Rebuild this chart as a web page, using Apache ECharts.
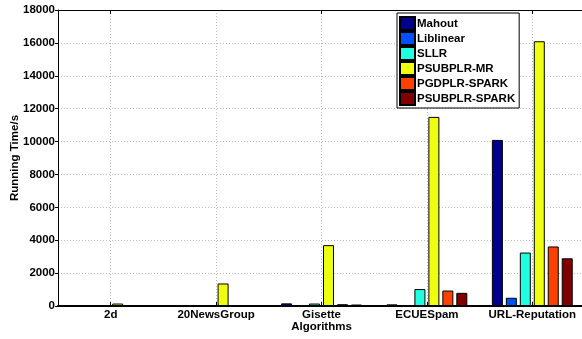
<!DOCTYPE html>
<html>
<head>
<meta charset="utf-8">
<script src="https://cdn.jsdelivr.net/npm/echarts@6/dist/echarts.min.js"></script>
<style>html,body{margin:0;padding:0;background:#fff;}#c{width:582px;height:339px;}</style>
</head>
<body>
<div id="c"></div>
<script>
var categories = ['2d', '20NewsGroup', 'Gisette', 'ECUESpam', 'URL-Reputation'];
var seriesNames = ['Mahout', 'Liblinear', 'SLLR', 'PSUBPLR-MR', 'PGDPLR-SPARK', 'PSUBPLR-SPARK'];
var mahout = [10, 20, 160, 100, 10100];
var liblinear = [5, 10, 30, 20, 500];
var sllr = [10, 30, 150, 1030, 3250];
var psubplrMR = [150, 1370, 3700, 11500, 16100];
var pgdplrSpark = [5, 15, 110, 940, 3620];
var psubplrSpark = [5, 10, 90, 800, 2900];
var colors = ['#00008F', '#0050FF', '#20FFDF', '#EFFF10', '#FF4000', '#800000'];
var allData = [mahout, liblinear, sllr, psubplrMR, pgdplrSpark, psubplrSpark];

var FONT = 'Liberation Sans, Arial, Helvetica, sans-serif';
var chart = echarts.init(document.getElementById('c'));
var series = seriesNames.map(function (n, i) {
  return {
    name: n, type: 'bar', data: allData[i],
    barWidth: 11, barGap: '27%',
    itemStyle: { color: colors[i], borderColor: '#000', borderWidth: 1 }
  };
});
chart.setOption({
  animation: false,
  backgroundColor: '#fff',
  grid: { left: 58, top: 10, width: 527, height: 296, outerBoundsMode: 'none', containLabel: false },
  legend: {
    orient: 'vertical', left: 397, top: 13,
    padding: [3, 4, 2, 2], itemGap: 0, itemWidth: 15, itemHeight: 13,
    borderColor: '#000', borderWidth: 1, backgroundColor: '#fff',
    icon: 'rect',
    textStyle: { fontFamily: FONT, fontWeight: 'bold', fontSize: 11.5, color: '#000', lineHeight: 15, padding: [0, 0, 0, -3] },
    data: seriesNames
  },
  xAxis: [{
    type: 'category', data: categories, position: 'bottom',
    name: 'Algorithms', nameLocation: 'middle', nameGap: 15, nameMoveOverlap: false,
    nameTextStyle: { fontFamily: FONT, fontWeight: 'bold', fontSize: 11.5, color: '#000' },
    axisLine: { lineStyle: { color: '#000', width: 2 } },
    axisTick: { show: true, inside: true, length: 4, alignWithLabel: true, lineStyle: { color: '#000' } },
    axisLabel: { interval: 0, fontFamily: FONT, fontWeight: 'bold', fontSize: 11.5, color: '#000', margin: 3 },
    splitLine: { show: true, alignWithLabel: true, lineStyle: { color: '#bbb', type: [1, 2], width: 1 } }
  }, {
    type: 'category', data: categories, position: 'top',
    axisLine: { lineStyle: { color: '#000', width: 1 } },
    axisTick: { show: true, inside: true, length: 4, alignWithLabel: true, lineStyle: { color: '#000' } },
    axisLabel: { show: false }, splitLine: { show: false }
  }],
  yAxis: {
    type: 'value', min: 0, max: 18000, interval: 2000,
    name: 'Running Time/s', nameLocation: 'middle', nameGap: 37, nameMoveOverlap: false,
    nameTextStyle: { fontFamily: FONT, fontWeight: 'bold', fontSize: 11.5, color: '#000' },
    axisLine: { show: true, lineStyle: { color: '#000', width: 1 } },
    axisTick: { show: true, inside: false, length: 3, lineStyle: { color: '#000' } },
    axisLabel: { fontFamily: FONT, fontWeight: 'bold', fontSize: 11.5, color: '#000', margin: 3,
      formatter: function (v) { return String(v); } },
    splitLine: { show: true, lineStyle: { color: '#bbb', type: [1, 2], width: 1 } }
  },
  series: series
});
</script>
</body>
</html>
